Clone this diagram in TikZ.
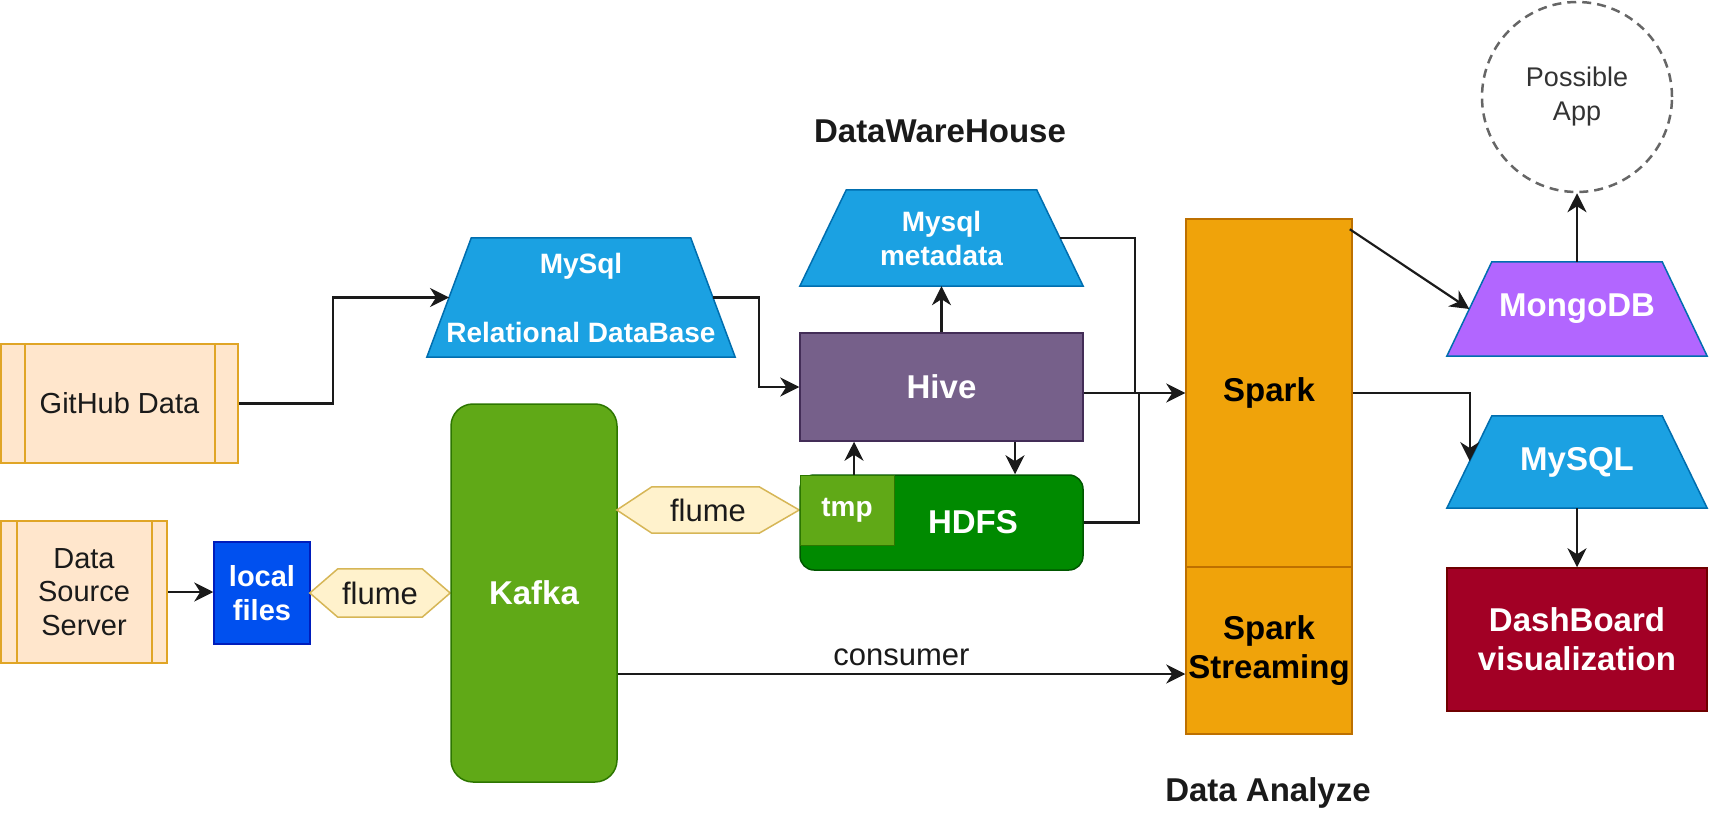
\documentclass[tikz,border=0pt]{standalone}
\usepackage{fontspec}
\setmainfont{Liberation Sans}
\usetikzlibrary{arrows.meta,calc}
\definecolor{ghfill}{HTML}{FFE6CC}
\definecolor{ghdraw}{HTML}{E0A526}
\definecolor{cobalt}{HTML}{0050EF}
\definecolor{cobaltd}{HTML}{001DBC}
\definecolor{flfill}{HTML}{FFF2CC}
\definecolor{fldraw}{HTML}{D6B656}
\definecolor{kafkaf}{HTML}{60A917}
\definecolor{kafkad}{HTML}{2D7600}
\definecolor{dbfill}{HTML}{1BA1E2}
\definecolor{dbdraw}{HTML}{006EAF}
\definecolor{hivef}{HTML}{76608A}
\definecolor{hived}{HTML}{432D57}
\definecolor{hdfsf}{HTML}{008A00}
\definecolor{hdfsd}{HTML}{005700}
\definecolor{sparkf}{HTML}{F0A30A}
\definecolor{sparkd}{HTML}{BD7000}
\definecolor{mongof}{HTML}{B266FF}
\definecolor{dashf}{HTML}{A20025}
\definecolor{dashd}{HTML}{6F0000}
\definecolor{linec}{HTML}{1A1A1A}
\definecolor{appd}{HTML}{666666}
\definecolor{appt}{HTML}{333333}
\begin{document}
\begin{tikzpicture}[x=1pt,y=-1pt,
  arr/.style={draw=linec, line width=2.2pt, -{Stealth[length=19pt,width=19pt,inset=6pt]}},
  ln/.style={draw=linec, line width=2.2pt},
  bigb/.style={font=\fontsize{33}{39}\selectfont\bfseries},
  medb/.style={font=\fontsize{28}{34}\selectfont\bfseries},
  regt/.style={font=\fontsize{29}{33.5}\selectfont, text=linec},
  box/.style={rectangle, inner sep=0pt, line width=1.5pt},
  proc/.style={box, fill=ghfill, draw=ghdraw, line width=2pt, regt, align=center},
  ghost/.style={rectangle, inner sep=0pt},
  trapf/.style={fill=dbfill, draw=dbdraw, line width=1.5pt},
  wlbl/.style={text=white, align=center},
  flhex/.style={fill=flfill, draw=fldraw, line width=1.5pt},
  flt/.style={font=\fontsize{31}{36}\selectfont, text=linec},
]
\useasboundingbox (0,0) rectangle (1711,834);

% sources
\node[proc, minimum width=237pt, minimum height=119pt] (gh) at (119.5,403.5) {GitHub Data};
\draw[draw=ghdraw, line width=2pt] ([xshift=25pt]gh.north west) -- ([xshift=25pt]gh.south west)
  ([xshift=-24pt]gh.north east) -- ([xshift=-24pt]gh.south east);
\node[proc, minimum width=166pt, minimum height=142pt] (dss) at (84,592) {Data\\Source\\Server};
\draw[draw=ghdraw, line width=2pt] ([xshift=17pt]dss.north west) -- ([xshift=17pt]dss.south west)
  ([xshift=-16pt]dss.north east) -- ([xshift=-16pt]dss.south east);

\node[box, fill=cobalt, draw=cobaltd, minimum width=96pt, minimum height=102pt, text=white, align=center,
  font=\fontsize{29}{34}\selectfont\bfseries] (local) at (262,593) {local\\files};

% flume 1
\node[ghost, minimum width=140pt, minimum height=48pt] (fl1) at (380,593) {};
\path[flhex] (fl1.west) -- ([xshift=28pt]fl1.north west) -- ([xshift=-28pt]fl1.north east) -- (fl1.east)
  -- ([xshift=-28pt]fl1.south east) -- ([xshift=28pt]fl1.south west) -- cycle;
\node[flt] (fl1t) at (fl1) {flume};

% kafka
\node[box, rounded corners=22pt, fill=kafkaf, draw=kafkad, minimum width=166pt, minimum height=378pt,
  bigb, text=white] (kafka) at (534,593) {Kafka};

% flume 2
\node[ghost, minimum width=182pt, minimum height=46pt] (fl2) at (708,510) {};
\path[flhex] (fl2.west) -- ([xshift=35pt]fl2.north west) -- ([xshift=-40pt]fl2.north east) -- (fl2.east)
  -- ([xshift=-40pt]fl2.south east) -- ([xshift=35pt]fl2.south west) -- cycle;
\node[flt] (fl2t) at (fl2) {flume};

% warehouse
\node[bigb, text=linec] (dwh) at (940,131) {DataWareHouse};

\node[ghost, minimum width=263.5pt, minimum height=119pt] (mysqlA) at (581,297.5) {};
\path[trapf] ([xshift=22.25pt]mysqlA.north west) -- ([xshift=-22.25pt]mysqlA.north east)
  -- ([xshift=22.25pt]mysqlA.south east) -- ([xshift=-22.25pt]mysqlA.south west) -- cycle;
\node[medb, wlbl] (mysqlAt) at (mysqlA) {MySql\\[35pt]Relational DataBase};

\node[ghost, minimum width=236.5pt, minimum height=96pt] (meta) at (941.5,238) {};
\path[trapf] ([xshift=23.25pt]meta.north west) -- ([xshift=-23.25pt]meta.north east)
  -- ([xshift=23.25pt]meta.south east) -- ([xshift=-23.25pt]meta.south west) -- cycle;
\node[medb, wlbl] (metat) at (meta) {Mysql\\metadata};

\node[box, fill=hivef, draw=hived, minimum width=283pt, minimum height=108pt, bigb, text=white] (hive) at (941.5,387) {Hive};
\node[box, rounded corners=14pt, fill=hdfsf, draw=hdfsd, minimum width=283pt, minimum height=95pt] (hdfs) at (941.5,522.5) {};
\node[box, fill=kafkaf, draw=kafkad, line width=1pt, minimum width=94pt, minimum height=70pt,
  medb, text=white] (tmp) at (847,510) {tmp};
\node[bigb, text=white] (hdfst) at (973,522) {HDFS};

% spark
\node[box, fill=sparkf, draw=sparkd, minimum width=166pt, minimum height=348pt, bigb, text=black] (spark) at (1269,393) {Spark};
\node[box, fill=sparkf, draw=sparkd, minimum width=166pt, minimum height=167pt, bigb, text=black, align=center] (stream) at (1269,650.5) {Spark\\Streaming};
\node[bigb, text=linec] (dan) at (1268,793) {Data Analyze};

% outputs
\node[ghost, minimum width=215pt, minimum height=94pt] (mongo) at (1577,309) {};
\path[trapf, fill=mongof] ([xshift=22.5pt]mongo.north west) -- ([xshift=-22.5pt]mongo.north east)
  -- ([xshift=22.5pt]mongo.south east) -- ([xshift=-22.5pt]mongo.south west) -- cycle;
\node[bigb, wlbl] (mongot) at (mongo) {MongoDB};

\node[ghost, minimum width=215pt, minimum height=92pt] (mysqlB) at (1577,462) {};
\path[trapf] ([xshift=22.5pt]mysqlB.north west) -- ([xshift=-22.5pt]mysqlB.north east)
  -- ([xshift=22.5pt]mysqlB.south east) -- ([xshift=-22.5pt]mysqlB.south west) -- cycle;
\node[bigb, wlbl] (mysqlBt) at (mysqlB) {MySQL};

\node[box, fill=dashf, draw=dashd, minimum width=260pt, minimum height=143pt, bigb, text=white, align=center] (dash) at (1577,639.5) {DashBoard\\visualization};
\node[circle, draw=appd, dash pattern=on 9pt off 6pt, line width=2.5pt, minimum size=190pt, inner sep=0pt,
  align=center, font=\fontsize{27}{34}\selectfont, text=appt] (app) at (1577,97) {Possible\\App};

% connectors
\draw[arr] (gh.east) -- ++(94,0) |- (mysqlA.west);
\draw[arr] (mysqlA.east) -| ($(hive.west)+(-40,0)$) -- (hive.west);
\draw[arr] (hive.north) -- (meta.south);
\draw[arr] ([xshift=7pt]tmp.north) -- ([xshift=7pt]tmp.north |- hive.south);
\draw[arr] ([xshift=73.5pt]hive.south) -- ([xshift=73.5pt]hive.south |- hdfs.north);
\coordinate (j1) at (1135,393);
\coordinate (j2) at (1139,393);
\draw[ln] (meta.east) -| (j1);
\draw[ln] (hdfs.east) -| (j2);
\draw[arr] (hive.east |- spark.west) -- (spark.west);
\draw[arr] ([yshift=-23.5pt]stream.west -| kafka.east) -- node[midway, above=4pt, flt] (cons) {consumer} ([yshift=-23.5pt]stream.west);
\draw[arr] (dss.east) -- (dss.east -| local.west);
\draw[arr] ([xshift=-3pt,yshift=-11pt]spark.north east) -- (mongo.west);
\coordinate (mbt) at ([xshift=22.5pt]mysqlB.north west);
\coordinate (mbb) at ([xshift=-22.5pt]mysqlB.south west);
\coordinate (mb) at ($(mbt)!0.49!(mbb)$);
\draw[arr] (spark.east) -| (mb);
\draw[arr] (mongo.north) -- (app.south);
\draw[arr] (mysqlB.south) -- (dash.north);
\end{tikzpicture}
\end{document}
